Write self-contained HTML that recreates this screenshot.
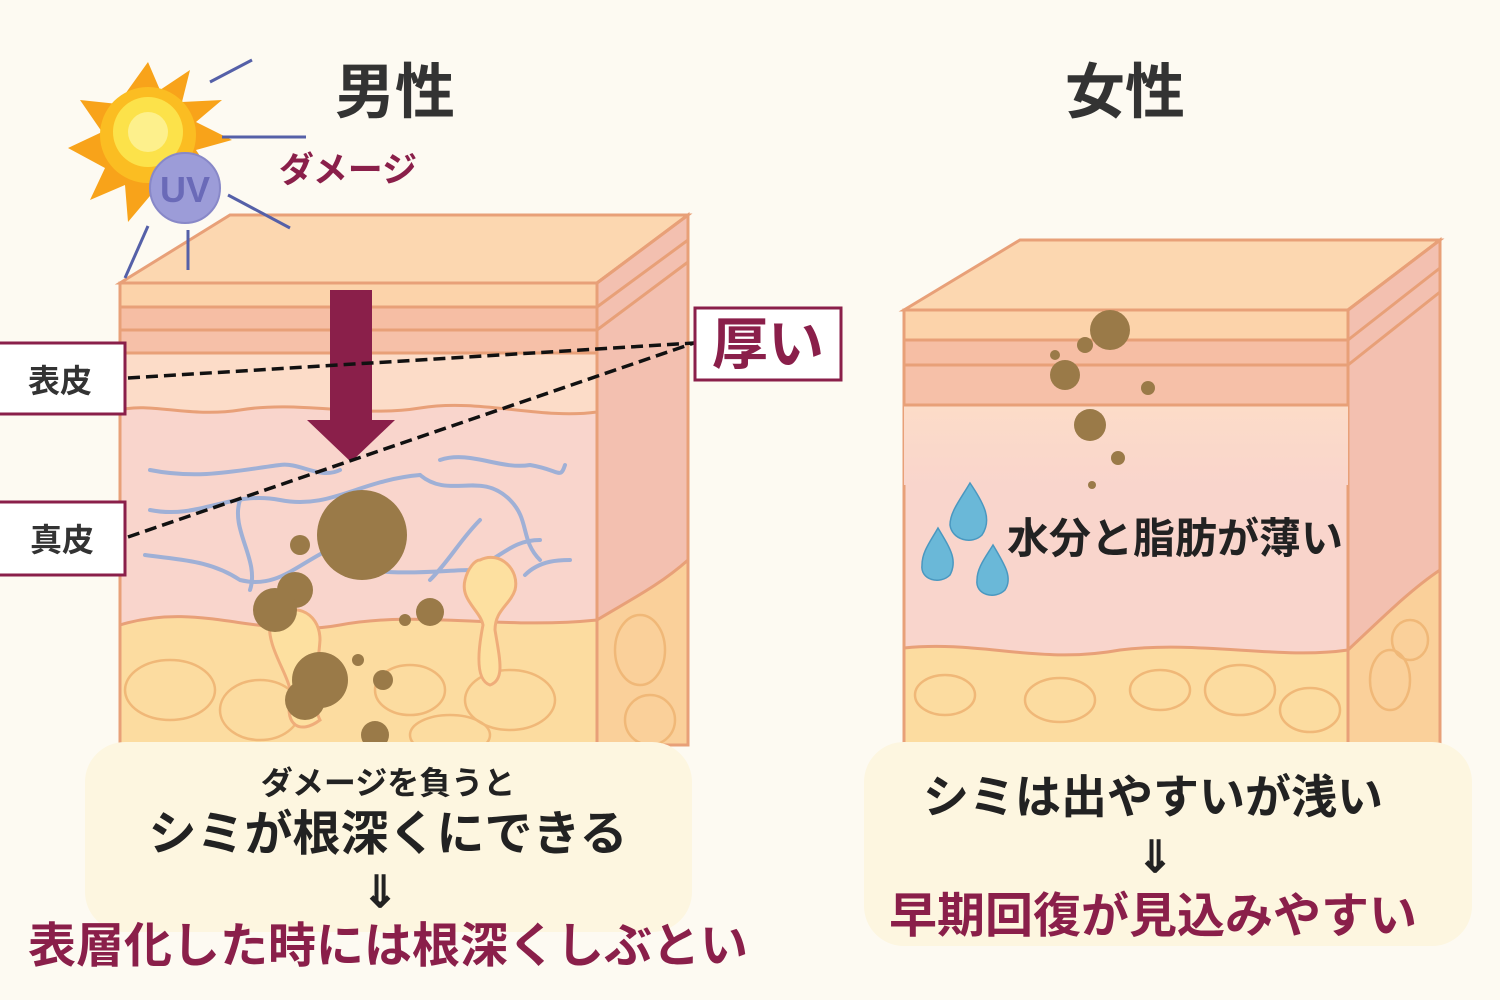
<!DOCTYPE html>
<html><head><meta charset="utf-8"><style>
body{margin:0;background:#fdfaf2;}
svg{display:block}
text{font-family:"Liberation Sans","Noto Sans CJK JP",sans-serif;font-weight:bold}
</style></head><body>
<svg width="1500" height="1000" viewBox="0 0 1500 1000">
<rect width="1500" height="1000" fill="#fdfaf2"/>
<!-- LEFT BLOCK -->
<g stroke="#e8a078" stroke-width="3">
<polygon points="120,283 230,215 688,215 597,283" fill="#fcd7b0"/>
<polygon points="597,283 688,215 688,745 597,745" fill="#f3c0b0"/>
<rect x="120" y="283" width="477" height="462" fill="#f9d5cc"/>
<rect x="120" y="283" width="477" height="24" fill="#fcd3aa"/>
<rect x="120" y="307" width="477" height="23" fill="#f6bea4"/>
<rect x="120" y="330" width="477" height="23" fill="#f6c0a8"/>
<path d="M120,353 H597 V412 C540,420 480,398 420,408 C360,418 300,400 240,410 C190,418 150,402 120,410 Z" fill="#fcdcc8"/>
<path d="M120,625 C200,600 260,640 340,625 C420,610 500,630 597,620 V745 H120 Z" fill="#fcdca0"/>
<path d="M597,620 C630,600 660,585 688,560 V745 H597 Z" fill="#fad09a"/>
<path d="M597,283 L688,215 M597,307 L688,240 M597,330 L688,262" fill="none"/>
</g>
<g fill="none" stroke="#f0b878" stroke-width="2.5">
<ellipse cx="170" cy="690" rx="45" ry="30"/><ellipse cx="260" cy="710" rx="40" ry="30"/>
<ellipse cx="410" cy="690" rx="35" ry="25"/><ellipse cx="510" cy="700" rx="45" ry="30"/>
<ellipse cx="450" cy="735" rx="40" ry="20"/><ellipse cx="640" cy="650" rx="25" ry="35"/><ellipse cx="650" cy="720" rx="25" ry="25"/>
</g>
<g fill="none" stroke="#9fb0d6" stroke-width="4" stroke-linecap="round">
<path d="M150,470 C200,480 240,470 280,465 C300,462 320,480 340,470"/>
<path d="M150,510 C200,520 230,490 280,500 C330,510 360,480 420,475"/>
<path d="M145,555 C180,560 210,560 240,580 C280,590 300,560 340,545"/>
<path d="M240,500 C230,530 260,560 250,590"/>
<path d="M420,475 C450,500 480,470 510,500 C530,520 520,540 540,560"/>
<path d="M440,460 C470,450 500,470 530,465 C560,470 560,480 565,465"/>
<path d="M330,560 C380,580 440,570 470,570 C500,560 510,540 540,540"/>
<path d="M480,520 C460,540 450,560 430,580"/>
<path d="M525,575 C540,560 560,560 570,560"/>
</g>
<path d="M480,560 C500,550 520,570 515,590 C510,605 495,610 495,630 C500,660 505,680 490,685 C475,680 478,650 483,625 C480,610 460,600 465,580 C468,568 475,560 480,560 Z" fill="#fde0a0" stroke="#efad7a" stroke-width="3"/>
<path d="M270,620 C290,600 320,610 320,640 C318,670 310,700 320,720 C300,735 285,725 290,700 C295,680 265,650 270,620 Z" fill="#fde0a0" stroke="#efad7a" stroke-width="3"/>
<g fill="#9a7a48">
<circle cx="362" cy="535" r="45"/><circle cx="300" cy="545" r="10"/><circle cx="295" cy="590" r="18"/>
<circle cx="275" cy="610" r="22"/><circle cx="320" cy="680" r="28"/><circle cx="305" cy="700" r="20"/>
<circle cx="430" cy="612" r="14"/><circle cx="383" cy="680" r="10"/><circle cx="358" cy="660" r="6"/>
<circle cx="375" cy="735" r="14"/><circle cx="405" cy="620" r="6"/>
</g>
<rect x="330" y="290" width="42" height="132" fill="#8a1f4a"/>
<polygon points="307,420 395,420 351,462" fill="#8a1f4a"/>
<g stroke="#111" stroke-width="3.5" stroke-dasharray="12,6">
<line x1="128" y1="378" x2="694" y2="343"/>
<line x1="128" y1="537" x2="694" y2="343"/>
</g>
<g fill="#fff" stroke="#8a1f4a" stroke-width="3">
<rect x="-2" y="343" width="127" height="71"/>
<rect x="-2" y="502" width="127" height="73"/>
<rect x="695" y="308" width="146" height="72"/>
</g>
<text x="60" y="392" font-size="32" text-anchor="middle" fill="#333">表皮</text>
<text x="62" y="551" font-size="32" text-anchor="middle" fill="#333">真皮</text>
<text x="768" y="364" font-size="56" text-anchor="middle" fill="#8a1f4a">厚い</text>
<g fill="#f8a31a">
<polygon points="148,62 160,90 190,70 182,102 222,100 196,122 232,140 196,150 216,180 180,175 175,215 155,190 128,222 125,185 90,200 105,168 68,148 102,132 80,100 118,104"/>
</g>
<circle cx="148" cy="135" r="48" fill="#fbbd22"/>
<circle cx="148" cy="132" r="35" fill="#fce24a"/>
<circle cx="148" cy="132" r="20" fill="#fdf08c"/>
<circle cx="185" cy="188" r="35" fill="#9c9cd8" stroke="#8888c8" stroke-width="2"/>
<text x="185" y="202" font-size="36" text-anchor="middle" fill="#6a6ab8" font-weight="normal">UV</text>
<g stroke="#5560a8" stroke-width="3">
<line x1="210" y1="82" x2="252" y2="60"/><line x1="222" y1="137" x2="306" y2="137"/>
<line x1="228" y1="195" x2="290" y2="228"/><line x1="188" y1="230" x2="188" y2="270"/>
<line x1="148" y1="226" x2="125" y2="278"/>
</g>
<text x="348" y="182" font-size="35" text-anchor="middle" fill="#8a1f4a">ダメージ</text>
<text x="395" y="113" font-size="60" text-anchor="middle" fill="#333">男性</text>
<text x="1125" y="113" font-size="60" text-anchor="middle" fill="#333">女性</text>
<!-- RIGHT BLOCK -->
<defs><linearGradient id="g1" x1="0" y1="0" x2="0" y2="1"><stop offset="0" stop-color="#fcdcc8"/><stop offset="1" stop-color="#f9d5cc"/></linearGradient></defs>
<g stroke="#e8a078" stroke-width="3">
<polygon points="904,310 1020,240 1440,240 1348,310" fill="#fcd7b0"/>
<polygon points="1348,310 1440,240 1440,745 1348,745" fill="#f3c0b0"/>
<rect x="904" y="310" width="444" height="435" fill="#f9d5cc"/>
<rect x="904" y="405" width="444" height="80" fill="url(#g1)" stroke="none"/>
<rect x="904" y="310" width="444" height="30" fill="#fcd3aa"/>
<rect x="904" y="340" width="444" height="25" fill="#f6bea4"/>
<rect x="904" y="365" width="444" height="40" fill="#f6c0a8"/>
<path d="M904,648 C980,640 1040,665 1120,650 C1200,640 1280,660 1348,650 V745 H904 Z" fill="#fcdca0"/>
<path d="M1348,650 C1380,620 1410,590 1440,570 V745 H1348 Z" fill="#fad09a"/>
<path d="M1348,310 L1440,240 M1348,340 L1440,268 M1348,365 L1440,292" fill="none"/>
</g>
<g fill="none" stroke="#f0b878" stroke-width="2.5">
<ellipse cx="945" cy="695" rx="30" ry="20"/><ellipse cx="1060" cy="700" rx="35" ry="22"/>
<ellipse cx="1160" cy="690" rx="30" ry="20"/><ellipse cx="1240" cy="690" rx="35" ry="25"/>
<ellipse cx="1310" cy="710" rx="30" ry="22"/><ellipse cx="1390" cy="680" rx="20" ry="30"/><ellipse cx="1410" cy="640" rx="18" ry="20"/>
</g>
<g fill="#9a7a48">
<circle cx="1110" cy="330" r="20"/><circle cx="1065" cy="375" r="15"/><circle cx="1085" cy="345" r="8"/>
<circle cx="1090" cy="425" r="16"/><circle cx="1118" cy="458" r="7"/><circle cx="1148" cy="388" r="7"/>
<circle cx="1055" cy="355" r="5"/><circle cx="1092" cy="485" r="4"/>
</g>
<g fill="#6ab8d8" stroke="#4a98c0" stroke-width="1.5">
<path d="M970,483 C985,505 992,520 982,535 C972,545 952,540 950,525 C950,512 960,500 970,483 Z"/>
<path d="M938,528 C950,548 958,560 950,575 C940,585 920,580 922,565 C922,552 930,542 938,528 Z"/>
<path d="M993,545 C1005,565 1013,578 1005,590 C995,600 975,595 977,580 C977,568 985,558 993,545 Z"/>
</g>
<text x="1175" y="553" font-size="42" text-anchor="middle" fill="#222">水分と脂肪が薄い</text>
<rect x="85" y="742" width="607" height="190" rx="40" fill="#fdf6e0"/>
<rect x="864" y="742" width="608" height="204" rx="40" fill="#fdf6e0"/>
<text x="388" y="794" font-size="32" text-anchor="middle" fill="#222">ダメージを負うと</text>
<text x="388" y="850" font-size="48" text-anchor="middle" fill="#222">シミが根深くにできる</text>
<text x="380" y="907" font-size="44" text-anchor="middle" fill="#222">⇓</text>
<text x="388" y="962" font-size="48" text-anchor="middle" fill="#8a1f4a">表層化した時には根深くしぶとい</text>
<text x="1153" y="813" font-size="46" text-anchor="middle" fill="#222">シミは出やすいが浅い</text>
<text x="1155" y="872" font-size="44" text-anchor="middle" fill="#222">⇓</text>
<text x="1153" y="932" font-size="48" text-anchor="middle" fill="#8a1f4a">早期回復が見込みやすい</text>
</svg>
</body></html>
